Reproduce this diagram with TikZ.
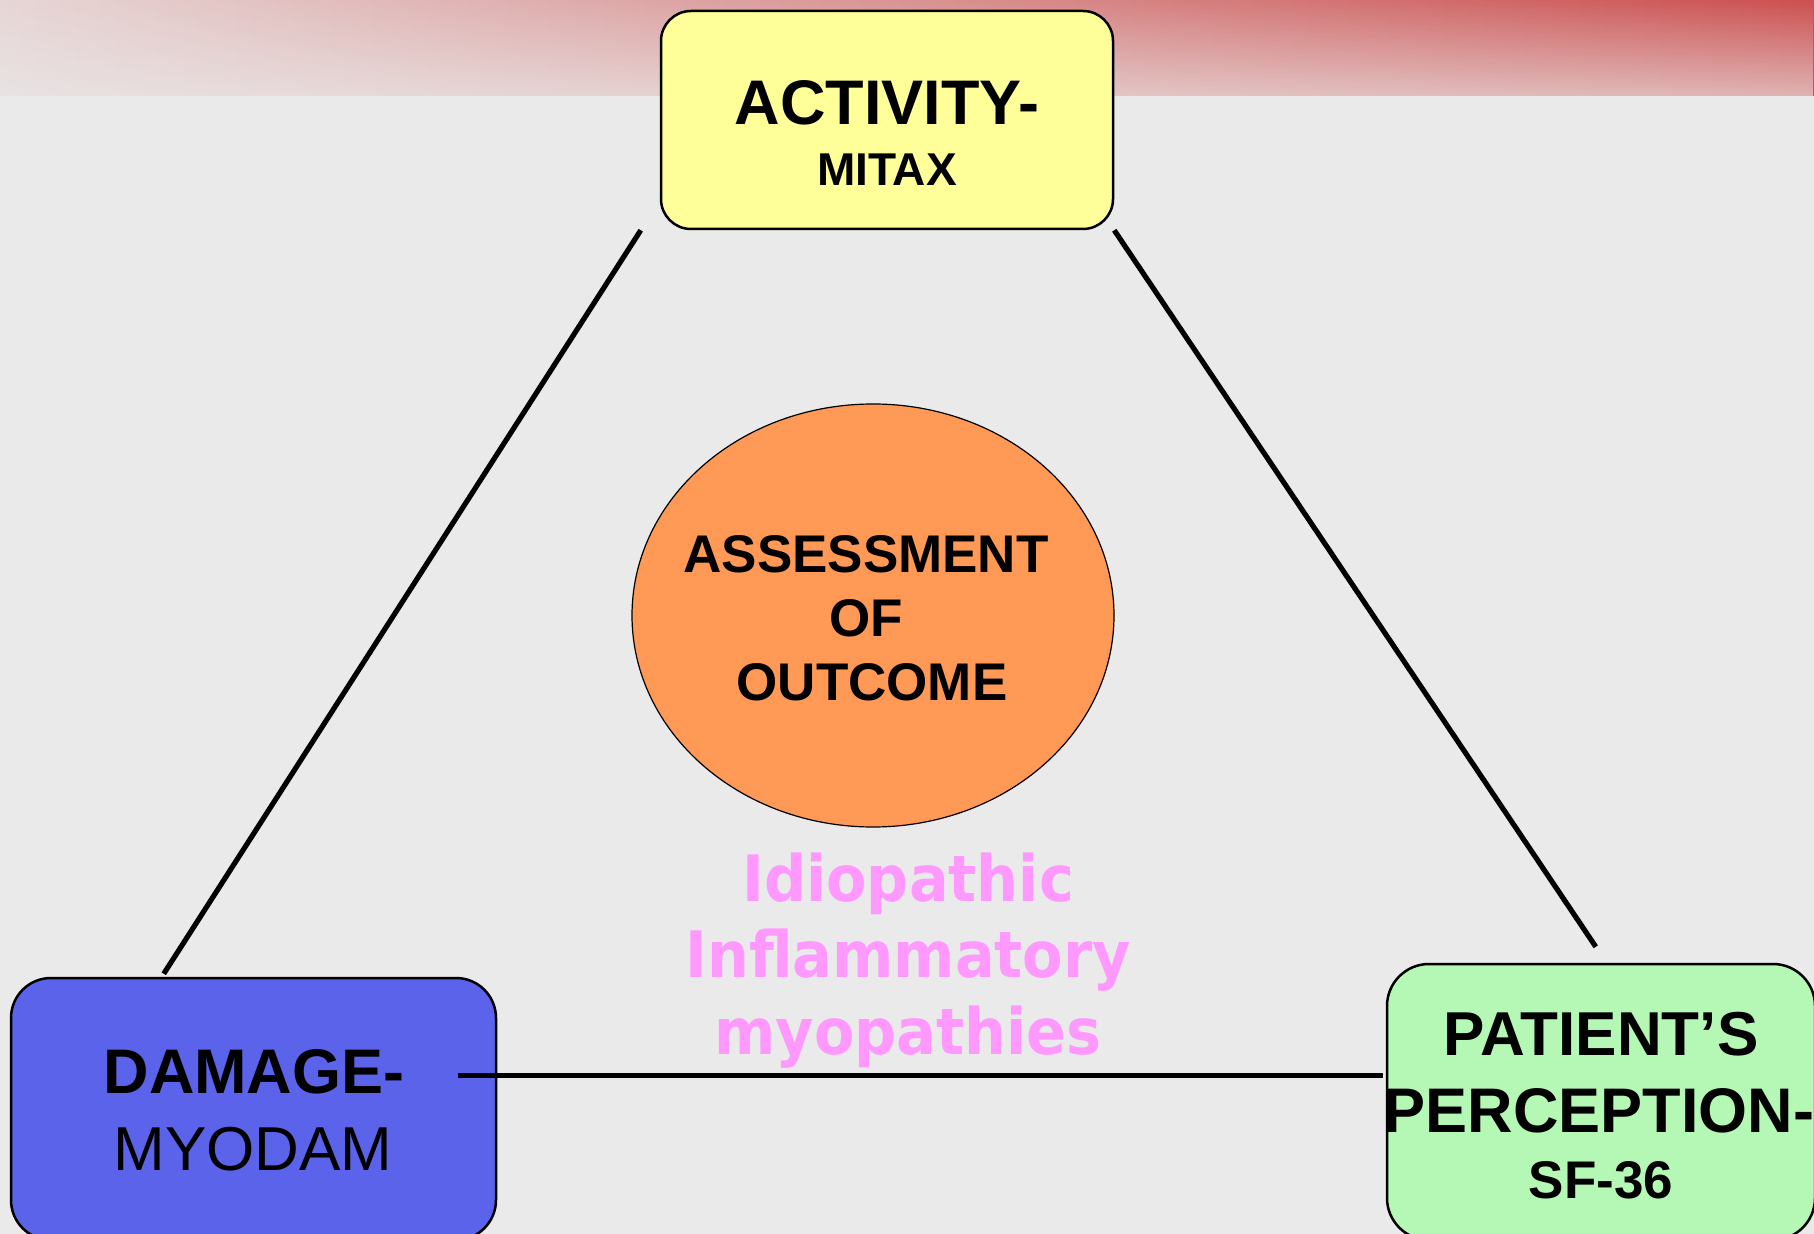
\documentclass[tikz,border=0pt]{standalone}
\usepackage{fontspec}
\setmainfont{Liberation Sans}
\newfontfamily\pinkfont{DejaVu Sans}
\usetikzlibrary{shapes.geometric,fadings}
\definecolor{bggray}{HTML}{EAEAEA}
\definecolor{bandL}{HTML}{E7D6D6}
\definecolor{bandR}{HTML}{CC5050}
\definecolor{actyellow}{HTML}{FFFF99}
\definecolor{dmgblue}{HTML}{5B63EB}
\definecolor{percgreen}{HTML}{B5F7B5}
\definecolor{outorange}{HTML}{FF9955}
\definecolor{iimpink}{HTML}{FF99FF}
\newcommand\iimtext[1]{\scalebox{0.92}[1]{#1}}
\tikzset{
  panel/.style={draw, line width=1.25pt, rounded corners=#1, inner sep=0pt},
  word/.style={inner sep=0pt, anchor=base},
  link/.style={line width=2.6pt},
  bigbold/.style={font=\fontsize{#1}{#1}\selectfont\bfseries},
  plain/.style={font=\fontsize{#1}{#1}\selectfont},
  iim/.style={word, text=iimpink, font=\pinkfont\fontsize{32}{32}\selectfont\bfseries},
}
\begin{document}
\begin{tikzpicture}[x=0.5pt, y=-0.5pt]
\useasboundingbox (0,0) rectangle (1814,1234);
% background and top band
\fill[bggray] (0,0) rectangle (1814,1234);
\shade[left color=bandL, right color=bandR] (0,0) rectangle (1814,96);
\fill[bggray, path fading=north, fill opacity=0.65] (0,0) rectangle (1814,96);
% the three measures
\node[panel=15pt, fill=actyellow, minimum width=226pt, minimum height=109pt] (activity) at (887,120) {};
\node[word, bigbold=31.5pt] (acttitle) at (887,125) {ACTIVITY-};
\node[word, bigbold=23pt] (actsub) at (887,186) {MITAX};
\node[panel=20pt, fill=dmgblue, minimum width=242.5pt, minimum height=131pt] (damage) at (253.5,1109) {};
\node[word, bigbold=31.5pt] (dmgtitle) at (254,1093) {DAMAGE-};
\node[word, plain=31pt] (dmgsub) at (253,1170) {MYODAM};
\node[panel=21pt, fill=percgreen, minimum width=214pt, minimum height=138pt] (perception) at (1601,1102) {};
\node[word, bigbold=31pt] (perctitle) at (1601,1055) {PATIENT’S};
\node[word, bigbold=31.5pt] (percmid) at (1599,1132) {PERCEPTION-};
\node[word, bigbold=26.5pt] (percsub) at (1601,1198) {SF-36};
% centre
\node[ellipse, draw, line width=0.6pt, fill=outorange, inner sep=0pt,
  minimum width=241pt, minimum height=211.5pt] (outcome) at (873,615.5) {};
\node[word, bigbold=26.5pt] (outa) at (866,573) {ASSESSMENT};
\node[word, bigbold=26.5pt] (outb) at (866,637) {OF};
\node[word, bigbold=26.5pt] (outc) at (872,700) {OUTCOME};
\node[iim] (iima) at (908,901) {\iimtext{Idiopathic}};
\node[iim] (iimb) at (908,977) {\iimtext{Inflammatory}};
\node[iim] (iimc) at (908,1054) {\iimtext{myopathies}};
% triangle
\draw[link] ([xshift=-9.5pt]activity.south west) -- ([shift={(77pt,1.5pt)}]damage.north west);
\draw[link] (activity.south east) -- ([shift={(105pt,8pt)}]perception.north west);
\draw[link] ([shift={(-19.5pt,-49.5pt)}]damage.north east) -- ([shift={(-1.5pt,-56.5pt)}]perception.north west);
\end{tikzpicture}
\end{document}
